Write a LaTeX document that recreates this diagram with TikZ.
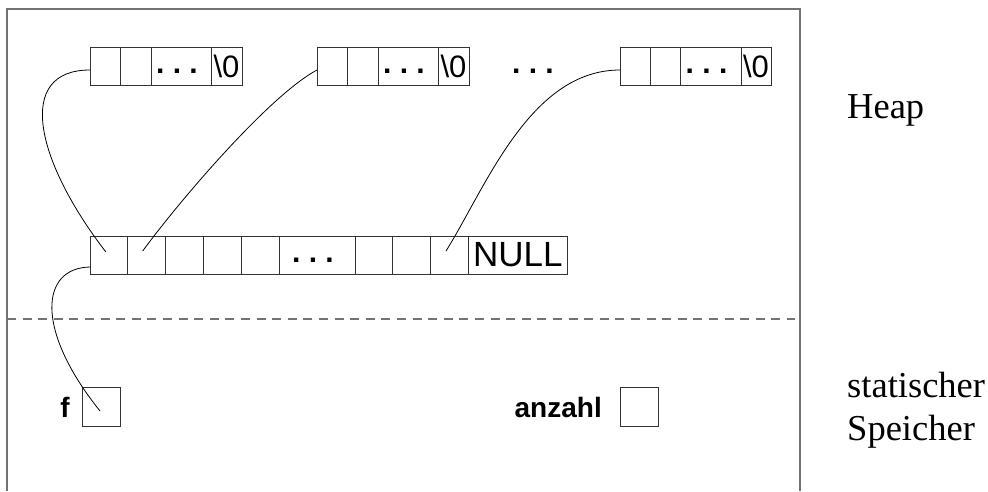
\documentclass[tikz,border=0pt]{standalone}
\usepackage{fontspec}
\setmainfont{Liberation Serif}
\setsansfont{Liberation Sans}
\begin{document}
\begin{tikzpicture}[x=1pt,y=1pt,
  cell/.style={draw=black!80, line width=0.8pt, minimum height=38pt, inner sep=0pt,
    outer sep=0pt, anchor=north west, font=\sffamily\fontsize{31}{31}\selectfont},
  dotcell/.style={font=\sffamily\bfseries\fontsize{30}{30}\selectfont, text height=14pt, text depth=0pt},
  nullcell/.style={font=\sffamily\fontsize{35}{35}\selectfont},
  frame/.style={draw=black!55, line width=1.4pt},
  divider/.style={draw=black!55, line width=1.2pt, dash pattern=on 9pt off 6.6pt},
  link/.style={draw=black, line width=0.8pt},
  varlabel/.style={font=\sffamily\bfseries\fontsize{28}{28}\selectfont, inner sep=0pt, anchor=base east},
  region/.style={font=\fontsize{36.5}{43}\selectfont, inner sep=0pt, anchor=base west}]

\useasboundingbox (0,0) rectangle (988,-491);

% memory frame, open at the bottom, and heap / static boundary
\draw[frame] (7,-491) -- (7,-9) -- (800,-9) -- (800,-491);
\draw[divider] (7,-319) -- (795,-319);

% three strings on the heap
\node[cell, minimum width=30pt]   (t1a) at (90,-47)  {};
\node[cell, minimum width=31pt]   (t1b) at (120,-47) {};
\node[cell, dotcell, minimum width=60pt] (t1c) at (151,-47) {.\ .\ .\kern8pt};
\node[cell, minimum width=31pt]   (t1d) at (211,-47) {\textbackslash 0};

\node[cell, minimum width=30pt]   (t2a) at (317,-47) {};
\node[cell, minimum width=31pt]   (t2b) at (347,-47) {};
\node[cell, dotcell, minimum width=60pt] (t2c) at (378,-47) {.\ .\ .\kern8pt};
\node[cell, minimum width=31pt]   (t2d) at (438,-47) {\textbackslash 0};

\node[dotcell, inner sep=0pt] (tgap) at (533,-66) {.\ .\ .};

\node[cell, minimum width=30pt]   (t3a) at (620,-47) {};
\node[cell, minimum width=30pt]   (t3b) at (650,-47) {};
\node[cell, dotcell, minimum width=61pt] (t3c) at (680,-47) {.\ .\ .\kern8pt};
\node[cell, minimum width=30pt]   (t3d) at (741,-47) {\textbackslash 0};

% pointer array
\node[cell, minimum width=37.8pt] (m1) at (90,-236)    {};
\node[cell, minimum width=37.8pt] (m2) at (127.8,-236) {};
\node[cell, minimum width=37.8pt] (m3) at (165.6,-236) {};
\node[cell, minimum width=37.8pt] (m4) at (203.4,-236) {};
\node[cell, minimum width=37.8pt] (m5) at (241.2,-236) {};
\node[cell, dotcell, minimum width=76pt] (m6) at (279,-236) {.\ .\ .\kern8pt};
\node[cell, minimum width=37.8pt] (m7) at (355,-236)   {};
\node[cell, minimum width=37.8pt] (m8) at (392.8,-236) {};
\node[cell, minimum width=37.8pt] (m9) at (430.6,-236) {};
\node[cell, nullcell, minimum width=99pt] (mnull) at (468.4,-236) {NULL};

% static variables
\node[cell, minimum width=38pt, minimum height=39pt] (fbox) at (82,-387) {};
\node[varlabel] (flbl) at (70,-417) {f};
\node[cell, minimum width=38pt, minimum height=39pt] (abox) at (620,-387) {};
\node[varlabel] (albl) at (602,-417) {anzahl};

% region names
\node[region] (heap) at (847,-118) {Heap};
\node[region] (stat) at (847,-397) {statischer};
\node[region] (speich) at ([yshift=-43pt]stat.base west) {Speicher};

% pointer tips inside the cells
\coordinate (p1) at ([shift={(-3,3)}]m1.center);
\coordinate (p2) at ([shift={(-4,4)}]m2.center);
\coordinate (p9) at ([shift={(-3.5,4)}]m9.center);
\coordinate (pf) at ([shift={(-1,-4.5)}]fbox.center);

% pointers
\draw[link] ([yshift=-4pt]t1a.west) .. controls (15,-70) and (35,-160) .. (p1);
\draw[link] ([yshift=-4pt]t2a.west) .. controls (270,-95) and (180,-200) .. (p2);
\draw[link] ([yshift=-4pt]t3a.west) .. controls (530,-70) and (486,-187) .. (p9);
\draw[link] ([yshift=-12pt]m1.west) .. controls (40,-268) and (35,-330) .. (pf);
\end{tikzpicture}
\end{document}
